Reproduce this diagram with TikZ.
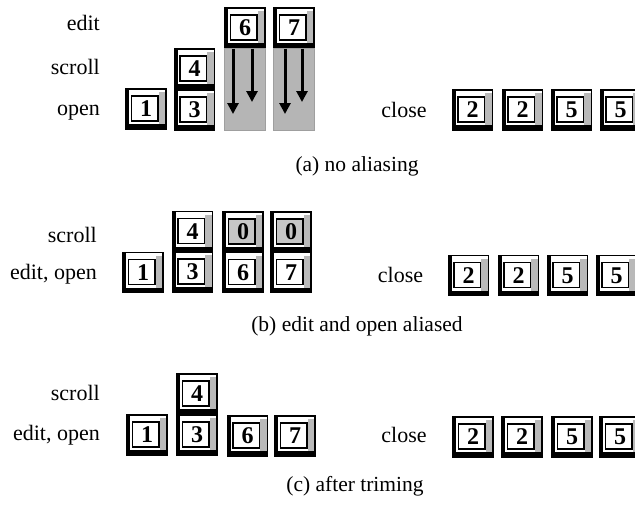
\documentclass[tikz,border=0pt]{standalone}
\usepackage{fontspec}
\setmainfont{Liberation Serif}
\usetikzlibrary{arrows.meta}
\newcommand\btnpic[1]{%
  \fill[black] (path picture bounding box.south west) rectangle ([yshift=5pt]path picture bounding box.south east);
  \fill[black] (path picture bounding box.south west) rectangle ([xshift=3pt]path picture bounding box.north west);
  \fill[gray!55] ([xshift=-7.5pt,yshift=5pt]path picture bounding box.south east) rectangle ([xshift=-1pt,yshift=-3pt]path picture bounding box.north east);
  \filldraw[fill=#1,line width=1.1pt] ([xshift=5.5pt,yshift=8pt]path picture bounding box.south west) rectangle ([xshift=-8pt,yshift=-7pt]path picture bounding box.north east);
}
\tikzset{
  btn/.style={draw, line width=1.3pt, minimum width=40pt, minimum height=40pt, inner sep=0pt,
    font=\bfseries\fontsize{24}{24}\selectfont, text depth=0pt,
    path picture={\btnpic{white}}},
  btngray/.style={btn, path picture={\btnpic{gray!45}}},
  lbl/.style={font=\fontsize{22}{22}\selectfont, inner sep=0pt},
  captxt/.style={font=\fontsize{21.5}{21.5}\selectfont, inner sep=0pt},
  shadecol/.style={fill=gray!58, draw=gray!75, line width=0.6pt},
  darr/.style={line width=3pt, -{Triangle[length=11pt,width=11pt]}},
}
\begin{document}
\begin{tikzpicture}[x=1pt,y=-1pt]
\useasboundingbox (0,0) rectangle (635,504);

% ---------- (a) ----------
\node[lbl, anchor=base east] (la1) at (100,30) {edit};
\node[lbl, anchor=base east] (la2) at (100,74) {scroll};
\node[lbl, anchor=base east] (la3) at (100,115) {open};
\node[btn] (a1) at (146,109) {1};
\node[btn] (a3) at (194.5,110) {3};
\node[btn] (a4) at (194.5,69) {4};
\node[btn] (a6) at (245,28) {6};
\node[btn] (a7) at (294,28) {7};
\coordinate (c6) at (265,130);
\coordinate (c7) at (314,130);
\path[shadecol] (a6.south west) rectangle (c6);
\path[shadecol] (a7.south west) rectangle (c7);
\draw[darr] ([xshift=-12pt]a6.south) -- ([xshift=-12pt]a6.south |- 0,114) coordinate (t61);
\draw[darr] ([xshift=7pt]a6.south) -- ([xshift=7pt]a6.south |- 0,102) coordinate (t62);
\draw[darr] ([xshift=-9pt]a7.south) -- ([xshift=-9pt]a7.south |- 0,114) coordinate (t71);
\draw[darr] ([xshift=8pt]a7.south) -- ([xshift=8pt]a7.south |- 0,102) coordinate (t72);
\node[lbl, anchor=base] (lac) at (404,117) {close};
\node[btn] (ac1) at (472.5,110) {2};
\node[btn] (ac2) at (522.5,110) {2};
\node[btn] (ac3) at (571.5,110) {5};
\node[btn] (ac4) at (620.5,110) {5};
\node[captxt, anchor=base] (capa) at (357,171) {(a) no aliasing};

% ---------- (b) ----------
\node[lbl, anchor=base east] (lb1) at (97,242) {scroll};
\node[lbl, anchor=base east] (lb2) at (97,279) {edit, open};
\node[btn] (b1) at (143,272.5) {1};
\node[btn] (b4) at (192.5,231.5) {4};
\node[btn] (b3) at (192.5,272) {3};
\node[btngray] (b0a) at (243,232) {0};
\node[btn] (b6) at (243,272.5) {6};
\node[btngray] (b0b) at (291,232) {0};
\node[btn] (b7) at (291,272.5) {7};
\node[lbl, anchor=base] (lbc) at (400.5,282) {close};
\node[btn] (bc1) at (468.5,275.5) {2};
\node[btn] (bc2) at (518.5,275.5) {2};
\node[btn] (bc3) at (567.5,275.5) {5};
\node[btn] (bc4) at (616.5,275.5) {5};
\node[captxt, anchor=base] (capb) at (357,331) {(b) edit and open aliased};

% ---------- (c) ----------
\node[lbl, anchor=base east] (lc1) at (100,400) {scroll};
\node[lbl, anchor=base east] (lc2) at (100,440) {edit, open};
\node[btn] (c4) at (197,394) {4};
\node[btn] (cc1) at (147,435) {1};
\node[btn] (cc3) at (197,435) {3};
\node[btn] (cc6) at (247.5,436) {6};
\node[btn] (cc7) at (295,436) {7};
\node[lbl, anchor=base] (lcc) at (404,442) {close};
\node[btn] (cx1) at (473,437) {2};
\node[btn] (cx2) at (522,437) {2};
\node[btn] (cx3) at (572,437) {5};
\node[btn] (cx4) at (620,437) {5};
\node[captxt, anchor=base] (capc) at (355,491) {(c) after triming};
\end{tikzpicture}
\end{document}
